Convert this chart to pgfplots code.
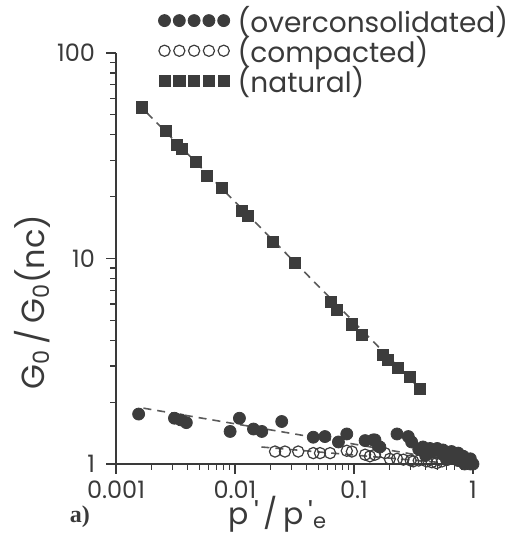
\documentclass[border=0pt]{standalone}
\usepackage{fontspec}
\setmainfont{Poppins}
\newfontfamily\serifa{Liberation Serif}
\usepackage{pgfplots}
\pgfplotsset{compat=1.18}

\definecolor{ink}{HTML}{3C3C3C}
\definecolor{axgray}{HTML}{3A3A3A}
\definecolor{dashgray}{HTML}{5A5A5A}

% five marks in a row for the legend
\pgfplotsset{fivemarks/.style={legend image code/.code={%
  \draw[##1] plot coordinates {(0pt,0pt) (7.4pt,0pt) (14.8pt,0pt) (22.2pt,0pt) (29.6pt,0pt)};}}}

\begin{document}
\begin{tikzpicture}
\useasboundingbox (-58pt,-36.5pt) rectangle (196pt,232pt);
\begin{axis}[
    at={(0pt,0pt)}, anchor=south west,
    scale only axis, width=178.5pt, height=205.5pt,
    xmode=log, ymode=log,
    xmin=0.001, xmax=1, ymin=1, ymax=100,
    axis x line*=bottom, axis y line*=left,
    x axis line style={-, axgray, line width=0.7pt},
    y axis line style={-, axgray, line width=0.7pt},
    tick style={axgray, line width=0.6pt},
    tick align=outside,
    major tick length=5pt, minor tick length=3pt,
    xtick={0.001,0.01,0.1,1}, xticklabels={0.001,0.01,0.1,1},
    ytick={1,10,100}, yticklabels={1,10,100},
    ticklabel style={font=\fontsize{12}{14}\selectfont, text=axgray},
    yticklabel style={xshift=-2pt},
    /pgf/number format/assume math mode=true,
    xlabel={p\,\textquotesingle\,/\,p\,\textquotesingle\textsubscript{e}},
    ylabel={G\textsubscript{0}\,/\,G\textsubscript{0}(nc)},
    xlabel style={font=\fontsize{15}{17}\selectfont, text=axgray,
        at={(axis description cs:0.454,-0.122)}, anchor=center},
    ylabel style={font=\fontsize{16}{18}\selectfont, text=axgray,
        at={(axis description cs:-0.235,0.394)}, anchor=center},
    legend cell align=left,
    legend style={at={(axis description cs:0.118,1.125)}, anchor=north west,
        draw=none, fill=none, inner sep=0pt, row sep=-3.5pt,
        font=\fontsize{14}{16}\selectfont, text=axgray,
        nodes={inner xsep=4pt}},
    clip=false,
]

% overconsolidated
\addplot[only marks, mark=*, mark size=3pt, draw=ink, fill=ink, fivemarks] coordinates {
    (0.00155,1.75) (0.0031,1.67) (0.0035,1.64) (0.0039,1.59)
    (0.0091,1.44) (0.0109,1.67) (0.0143,1.48) (0.0168,1.44)
    (0.0247,1.61) (0.0455,1.35) (0.057,1.36) (0.074,1.28)
    (0.087,1.40) (0.124,1.30) (0.145,1.31) (0.150,1.31)
    (0.160,1.22) (0.165,1.21) (0.23,1.40) (0.286,1.36)
    (0.305,1.28) (0.35,1.18) (0.38,1.21) (0.40,1.10)
    (0.435,1.19) (0.45,1.14) (0.50,1.19) (0.55,1.12)
    (0.56,1.17) (0.60,1.05) (0.62,1.10) (0.66,1.15)
    (0.70,1.08) (0.75,1.13) (0.75,1.04) (0.80,1.06)
    (0.83,1.09) (0.85,1.00) (0.88,1.03) (0.91,1.05)
    (0.95,1.06) (0.95,1.00) (0.97,1.01) (1.00,1.00)
};
\addlegendentry{(overconsolidated)}

% compacted
\addplot[only marks, mark=o, mark size=2.8pt, draw=ink, line width=0.6pt, fivemarks] coordinates {
    (0.0217,1.15) (0.0263,1.15) (0.034,1.15) (0.0455,1.13)
    (0.0518,1.13) (0.063,1.13) (0.087,1.16) (0.096,1.15)
    (0.124,1.11) (0.136,1.09) (0.150,1.11) (0.182,1.13)
    (0.20,1.06) (0.23,1.06) (0.26,1.05) (0.30,1.04)
    (0.315,1.03) (0.35,1.04) (0.408,1.03) (0.45,1.02)
    (0.495,1.01) (0.55,1.03)
};
\addlegendentry{(compacted)}

% natural
\addplot[only marks, mark=square*, mark size=2.8pt, draw=ink, fill=ink, fivemarks] coordinates {
    (0.00164,54.4) (0.00263,41.9) (0.00327,35.7) (0.00356,34.1)
    (0.0047,29.4) (0.00585,25.3) (0.00773,22.0) (0.0114,17.0)
    (0.0129,16.1) (0.0207,12.0) (0.0319,9.48) (0.0637,6.16)
    (0.0716,5.62) (0.0957,4.78) (0.116,4.24) (0.175,3.39)
    (0.193,3.21) (0.234,2.93) (0.296,2.65) (0.359,2.32)
};
\addlegendentry{(natural)}

% fitted dashed lines
\addplot[forget plot, dashgray, line width=0.8pt, dash pattern=on 4pt off 3pt] coordinates {
    (0.0015,57.3) (0.37,2.28)
};
\addplot[forget plot, dashgray, line width=0.8pt, dash pattern=on 4pt off 3pt] coordinates {
    (0.0017,1.87) (0.95,1.0)
};
\addplot[forget plot, dashgray, line width=0.8pt, dash pattern=on 4pt off 3pt] coordinates {
    (0.0167,1.21) (0.5,1.02)
};

\node[font=\serifa\bfseries\fontsize{12}{14}\selectfont, text=axgray]
    at (axis description cs:-0.101,-0.129) {a)};
\end{axis}
\end{tikzpicture}
\end{document}
